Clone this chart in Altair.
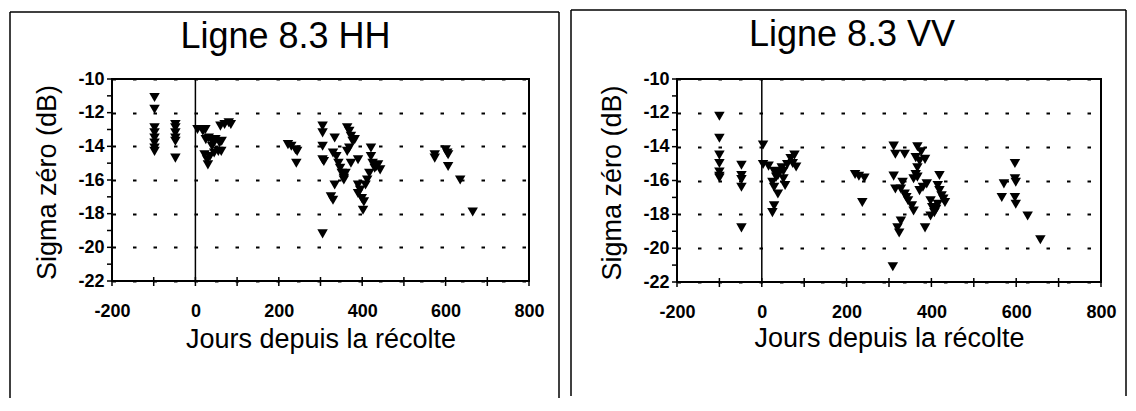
import altair as alt
import pandas as pd

# ---------------- data ----------------
hh_days = [-98, -98, -98, -98, -98, -98, -98, -98,
           -48, -48, -48, -48, -48, -48,
           5, 18, 24, 25, 32, 40, 48, 58, 63, 22, 28, 30, 35, 45, 55, 62, 60, 70, 80, 85, 40,
           222, 230, 240, 244, 242,
           305, 305, 305, 305, 305, 308,
           334, 330, 338, 343, 347, 351, 356, 334, 325, 330,
           364, 369, 373, 377, 382, 369, 364, 390, 373, 360, 356,
           390, 395, 390, 399, 404, 402,
           421, 421, 425, 430, 434, 438, 443, 417, 412, 408,
           574, 574, 600, 604, 606, 606, 635, 665]
hh_sigma = [-11.1, -11.8, -12.9, -13.2, -13.5, -13.8, -14.1, -14.3,
            -12.7, -12.9, -13.2, -13.5, -13.7, -14.7,
            -13.0, -13.1, -13.0, -13.6, -13.5, -13.7, -13.6, -13.8, -13.7, -14.5, -14.8, -15.1, -14.6, -14.4, -14.3, -14.3, -12.8, -12.7, -12.6, -12.7, -14.0,
            -13.9, -14.0, -14.2, -14.3, -15.0,
            -12.8, -13.2, -14.0, -14.8, -19.2, -14.9,
            -13.5, -14.4, -14.6, -15.0, -15.3, -15.6, -15.9, -16.3, -17.0, -17.2,
            -12.9, -13.1, -13.4, -13.7, -13.6, -14.1, -14.3, -14.8, -15.0, -15.6, -16.0,
            -16.3, -16.6, -16.8, -17.1, -17.3, -17.8,
            -14.1, -14.6, -15.0, -15.3, -15.2, -15.1, -15.4, -15.6, -16.0, -16.3,
            -14.5, -14.7, -14.2, -14.4, -14.5, -15.2, -16.0, -17.9]

vv_days = [-100, -100, -100, -100, -100, -100, -100,
           -48, -48, -48, -48, -48,
           3, 3,
           16, 29, 34, 25, 29, 38, 29, 25, 42, 47, 51, 60, 68, 77, 73, 81, 55, 51, 38,
           220, 229, 242, 237,
           311, 315, 311, 315, 309,
           337, 332, 328, 337, 345, 341, 354, 358, 328, 320, 324,
           367, 376, 363, 372, 385, 367, 363, 358, 367, 372, 380, 389, 385,
           398, 402, 407, 398, 419, 415, 419, 424, 428, 432, 415, 411,
           571, 566, 597, 597, 599, 597, 599, 627, 657]
vv_sigma = [-12.2, -13.5, -14.5, -15.0, -15.5, -15.75, -15.85,
            -15.1, -15.7, -15.95, -16.4, -18.8,
            -13.9, -15.05,
            -15.15, -15.45, -15.8, -16.1, -16.4, -16.8, -17.5, -17.9, -15.5, -15.25, -15.45, -15.05, -14.7, -14.5, -15.0, -15.2, -16.3, -15.9, -15.7,
            -15.65, -15.75, -15.85, -17.3,
            -13.97, -14.45, -15.74, -16.5, -21.1,
            -14.45, -16.1, -16.5, -16.8, -17.2, -17.0, -17.5, -17.8, -18.4, -18.8, -19.1,
            -14.0, -14.3, -14.65, -14.85, -14.75, -15.25, -15.65, -15.9, -15.8, -16.6, -16.4, -16.2, -18.8,
            -17.2, -17.6, -17.9, -18.1, -15.7, -16.3, -16.6, -16.9, -17.1, -17.3, -17.4, -17.7,
            -16.2, -17.0, -15.0, -15.9, -16.1, -17.0, -17.4, -18.1, -19.5]

x_label_values = [-200, 0, 200, 400, 600, 800]
x_tick_values = [-200, -100, 0, 100, 200, 300, 400, 500, 600, 700, 800]
y_label_values = [-22, -20, -18, -16, -14, -12, -10]
y_tick_values = [-22, -21, -20, -19, -18, -17, -16, -15, -14, -13, -12, -11, -10]
zero_line = [0]

FONT = "Liberation Sans"
LABEL_EXPR = "datum.value < 0 ? '-' + (-datum.value) : '' + datum.value"


def panel(days, sigma, title, W, H, fl, fr, ft, fb, tdx, toff, x_title_y):
    pts = pd.DataFrame({"d": days, "s": sigma})
    xs = alt.Scale(domain=[-200, 800], nice=False, zero=False)
    ys = alt.Scale(domain=[-22, -10], nice=False, zero=False)

    xaxis = alt.Axis(values=x_label_values, labelExpr=LABEL_EXPR, ticks=False, domain=False,
                     grid=False, labelFont=FONT, labelFontSize=18, labelFontWeight="bold",
                     labelColor="black", labelPadding=21, labelFlush=False, labelOverlap=False,
                     title="Jours depuis la récolte", titleFont=FONT, titleFontSize=27,
                     titleFontWeight="normal", titleColor="black", titleBaseline="alphabetic",
                     titleY=x_title_y)
    yaxis = alt.Axis(values=y_label_values, labelExpr=LABEL_EXPR, ticks=False, domain=False,
                     grid=True, gridColor="black", gridDash=[3.5, 17], gridWidth=2,
                     gridOpacity=1, labelFont=FONT, labelFontSize=18, labelFontWeight="bold",
                     labelColor="black", labelPadding=8, labelFlush=False, labelOverlap=False,
                     title="Sigma zéro (dB)", titleFont=FONT, titleFontSize=27,
                     titleFontWeight="normal", titleColor="black", titleAngle=270,
                     titleBaseline="alphabetic", titleX=-57, titleY=H / 2 + 2)

    zero = alt.Chart(pd.DataFrame({"z": zero_line})).mark_rule(
        color="black", strokeWidth=1.5
    ).encode(x=alt.X("z:Q", scale=xs, axis=xaxis))

    xt = alt.Chart(pd.DataFrame({"t": x_tick_values})).mark_rule(
        color="black", strokeWidth=1.5
    ).encode(x=alt.X("t:Q", scale=xs, axis=xaxis), y=alt.value(H - 4), y2=alt.value(H + 5))

    yt = alt.Chart(pd.DataFrame({"t": y_tick_values})).mark_rule(
        color="black", strokeWidth=1.5
    ).encode(y=alt.Y("t:Q", scale=ys, axis=yaxis), x=alt.value(-5), x2=alt.value(0))

    one = pd.DataFrame({"k": [0]})
    fleft = alt.Chart(one).mark_rule(color="black", strokeWidth=1.5).encode(
        x=alt.value(fl), y=alt.value(ft), y2=alt.value(fb))
    fright = alt.Chart(one).mark_rule(color="black", strokeWidth=1.5).encode(
        x=alt.value(fr), y=alt.value(ft), y2=alt.value(fb))
    ftop = alt.Chart(one).mark_rule(color="black", strokeWidth=1.5).encode(
        x=alt.value(fl), x2=alt.value(fr), y=alt.value(ft))

    ttl = alt.Chart(one).mark_text(
        font=FONT, fontSize=36, fontWeight="normal", color="black",
        align="center", baseline="alphabetic"
    ).encode(x=alt.value(W / 2 + tdx), y=alt.value(-toff), text=alt.value(title))

    points = alt.Chart(pts).mark_point(
        shape="triangle-down", filled=True, size=110, color="black", opacity=1
    ).encode(
        x=alt.X("d:Q", scale=xs, axis=xaxis),
        y=alt.Y("s:Q", scale=ys, axis=yaxis),
    )

    return alt.layer(zero, xt, yt, fleft, fright, ftop, ttl, points).properties(
        width=W, height=H
    )


left = panel(hh_days, hh_sigma, "Ligne 8.3 HH", 417, 202, -102, 447, -67, 319, -35, 31, 66)
right = panel(vv_days, vv_sigma, "Ligne 8.3 VV", 424, 203, -106, 449, -69, 317, -37, 33, 64)

chart = alt.hconcat(left, right, spacing=8, padding=0, background="white").configure_view(
    stroke="black", strokeWidth=2
)

chart.save("out.html", embed_options={"renderer": "svg", "actions": False})
